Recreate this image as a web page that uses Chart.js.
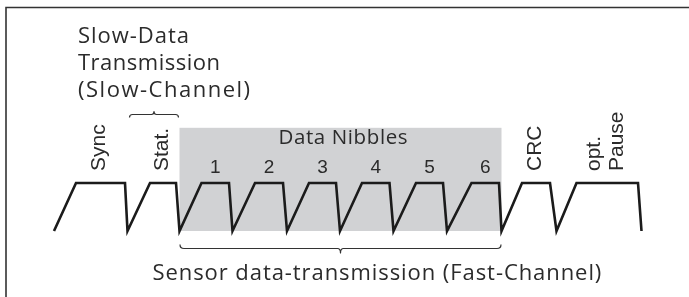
<!DOCTYPE html>
<html>
<head>
<meta charset="utf-8">
<script src="https://cdn.jsdelivr.net/npm/chart.js@4.4.1/dist/chart.umd.min.js"></script>
<style>
  html, body { margin: 0; padding: 0; background: #fff; }
  #wrap { position: relative; width: 689px; height: 297px; }
</style>
</head>
<body>
<div id="wrap"><canvas id="sentChart"></canvas></div>
<script>
// SENT frame: vertices of the signal (time in ticks, level 0 = low / 1 = high)
const waveTime = [54, 76, 125, 127.5, 150, 176, 179.5, 201.5, 229, 232.5, 255, 283, 287,
    309, 336, 340, 362, 389.5, 393.5, 416, 443, 447, 471.5, 499, 501.5,
    522, 550, 556.5, 576.5, 638, 641.5];
const waveLevel = [0, 1, 1, 0, 1, 1, 0, 1, 1, 0, 1, 1, 0,
    1, 1, 0, 1, 1, 0, 1, 1, 0, 1, 1, 0,
    1, 1, 0, 1, 1, 0];

// one label per pulse (rotated names, digits for the data nibbles)
const pulseLabels = ['Sync', 'Stat.', '1', '2', '3', '4', '5', '6', 'CRC', ['opt.', 'Pause']];
const rotatedLabel = [true, true, false, false, false, false, false, false, true, true];

const slowTitle = ['Slow-Data', 'Transmission', '(Slow-Channel)'];
const slowTitleWidth = [111, 142, 172];
const nibbleTitle = 'Data Nibbles';
const fastTitle = 'Sensor data-transmission (Fast-Channel)';

const TEXT = '#2b2b2b';
const MAIN_FONT = '"Open Sans", "Noto Sans", sans-serif';
const LABEL_FONT = '"Liberation Sans", Arial, sans-serif';

// pixel helpers through the chart scales
function px(chart, t) { return chart.scales.x.getPixelForValue(t); }
function py(chart, lv) { return chart.scales.y.getPixelForValue(lv); }

function pulseCenter(i) {
    return (waveTime[1 + 3 * i] + waveTime[2 + 3 * i]) / 2;
}

// draw text stretched with letter spacing to a given width (left aligned at x)
function fitText(ctx, text, x, y, width) {
    ctx.letterSpacing = '0px';
    const w = ctx.measureText(text).width;
    const sp = Math.max(0, (width - w) / Math.max(1, text.length - 1));
    ctx.letterSpacing = sp.toFixed(2) + 'px';
    ctx.textAlign = 'left';
    ctx.fillText(text, x, y);
    ctx.letterSpacing = '0px';
}

const decorPlugin = {
    id: 'sentDecor',
    beforeDatasetsDraw(chart) {
        const ctx = chart.ctx;
        ctx.save();
        // grey window behind the data nibbles
        const x0 = px(chart, waveTime[6]);
        const x1 = px(chart, waveTime[24]);
        ctx.fillStyle = '#d1d2d4';
        ctx.fillRect(x0, py(chart, 2.15), x1 - x0, py(chart, 0) - py(chart, 2.15));

        // frame (top + left only)
        ctx.strokeStyle = '#333';
        ctx.lineWidth = 1.6;
        ctx.beginPath();
        ctx.moveTo(689, 7.5);
        ctx.lineTo(6, 7.5);
        ctx.lineTo(6, 297);
        ctx.stroke();
        ctx.restore();
    },
    afterDatasetsDraw(chart) {
        const ctx = chart.ctx;
        ctx.save();
        ctx.fillStyle = TEXT;
        ctx.textBaseline = 'alphabetic';

        // slow channel title
        ctx.font = '22px ' + MAIN_FONT;
        slowTitle.forEach((line, i) => fitText(ctx, line, 78, 42.5 + i * 27, slowTitleWidth[i]));

        // data nibbles title
        ctx.font = '20.5px ' + MAIN_FONT;
        fitText(ctx, nibbleTitle, 278.5, 144, 129);

        // fast channel caption
        ctx.font = '22px ' + MAIN_FONT;
        fitText(ctx, fastTitle, 152.5, 279.5, 449);

        // pulse labels
        pulseLabels.forEach((lab, i) => {
            const cx = px(chart, pulseCenter(i));
            if (rotatedLabel[i]) {
                ctx.font = '21px ' + LABEL_FONT;
                const lines = Array.isArray(lab) ? lab : [lab];
                const gap = 23;
                lines.forEach((line, k) => {
                    const base = cx + 6.5 - (lines.length - 1) * gap / 2 + k * gap - 2;
                    ctx.save();
                    ctx.translate(base, 171);
                    ctx.rotate(-Math.PI / 2);
                    ctx.textAlign = 'left';
                    ctx.fillText(line, 0, 0);
                    ctx.restore();
                });
            } else {
                ctx.font = '19px ' + LABEL_FONT;
                ctx.textAlign = 'center';
                ctx.fillText(lab, cx, 173);
            }
        });

        // braces
        ctx.strokeStyle = '#333';
        ctx.lineWidth = 1.2;
        ctx.lineJoin = 'round';
        // fast channel brace (below the nibbles)
        let a = px(chart, waveTime[6]) + 0.5, b = px(chart, waveTime[24]) - 0.5;
        let m = (a + b) / 2, y = 248.5;
        ctx.beginPath();
        ctx.moveTo(a, y - 4);
        ctx.quadraticCurveTo(a, y, a + 4, y);
        ctx.lineTo(m - 3, y);
        ctx.quadraticCurveTo(m, y, m, y + 4.5);
        ctx.quadraticCurveTo(m, y, m + 3, y);
        ctx.lineTo(b - 4, y);
        ctx.quadraticCurveTo(b, y, b, y - 4);
        ctx.stroke();
        // slow channel brace (above the status nibble)
        a = px(chart, waveTime[3]) + 2; b = px(chart, waveTime[6]) - 1;
        m = (a + b) / 2; y = 114.5;
        ctx.beginPath();
        ctx.moveTo(a, y + 3);
        ctx.quadraticCurveTo(a, y, a + 3, y);
        ctx.lineTo(m - 2.5, y);
        ctx.quadraticCurveTo(m, y, m, y - 3);
        ctx.quadraticCurveTo(m, y, m + 2.5, y);
        ctx.lineTo(b - 3, y);
        ctx.quadraticCurveTo(b, y, b, y + 3);
        ctx.stroke();

        ctx.restore();
    }
};

const ctx = document.getElementById('sentChart').getContext('2d');
new Chart(ctx, {
    type: 'scatter',
    data: {
        datasets: [{
            label: 'SENT',
            data: waveTime.map((t, i) => ({ x: t, y: waveLevel[i] })),
            showLine: true,
            borderColor: '#1b1b1b',
            borderWidth: 2.6,
            borderJoinStyle: 'miter',
            tension: 0,
            pointRadius: 0,
            fill: false
        }]
    },
    options: {
        responsive: true,
        maintainAspectRatio: false,
        animation: false,
        layout: { padding: 0 },
        plugins: { legend: { display: false }, tooltip: { enabled: false } },
        scales: {
            x: { type: 'linear', display: false, min: 0, max: 689 },
            y: { type: 'linear', display: false, min: -1.375, max: 4.8125 }
        }
    },
    plugins: [decorPlugin]
});
</script>
</body>
</html>
